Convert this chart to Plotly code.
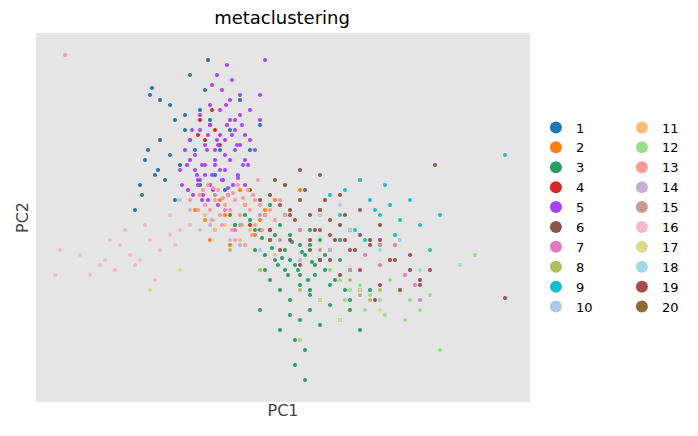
import plotly.graph_objects as go

categories = [str(i) for i in range(1, 21)]
colors = ['#1f77b4','#ff7f0e','#279e68','#d62728','#aa40fc','#8c564b','#e377c2','#b5bd61','#17becf','#aec7e8',
          '#ffbb78','#98df8a','#ff9896','#c5b0d5','#c49c94','#f7b6d2','#dbdb8d','#9edae5','#ad494a','#8c6d31']

c1_x=[150,160,170,175,185,190,195,200,205,210,145,155,165,180,200,220,230,240,215,225,140,135,175,190,160,208,250,260,170,185,152,148,158,142]
c1_y=[95,100,105,120,130,140,150,110,90,120,160,175,180,165,185,150,130,100,175,190,185,210,200,75,140,60,150,125,155,115,88,150,170,195]
c2_x=[195,205,215,225,235,245,255,265,275,210,220,230,240,250,200,260,285,300,320,360]
c2_y=[210,220,230,215,225,205,235,210,200,240,200,245,190,225,195,220,185,190,210,180]
c3_x=[250,260,270,280,290,300,310,320,330,340,255,265,275,285,295,305,315,325,335,345,270,280,290,300,310,320,260,290,300,310,330,350,280,295,305,320,340,360,275,285,300,315,330,265,290,310,325,300,285,270,340,295,305,310,320,255,245,235,350,370,262,272,282,292,302,312,278,288,298,308]
c3_y=[220,230,240,225,235,245,230,240,250,260,250,255,260,270,265,255,275,270,280,290,280,290,300,285,295,300,310,315,320,310,305,300,330,340,350,325,320,330,235,250,275,265,285,270,260,245,255,230,215,205,240,365,380,290,260,230,215,225,310,290,238,248,258,242,252,262,265,275,270,280]
c4_x=[200,205,210,215,220,212,198]
c4_y=[120,140,125,130,145,110,135]
c5_x=[185,190,195,200,205,210,215,220,225,230,235,240,245,250,188,193,198,203,208,213,218,223,228,233,238,243,190,200,210,220,230,240,250,195,205,215,225,235,245,200,210,220,230,240,205,215,225,235,212,222,232,217,227,255,260,198,208,245,180,182,228,238,248,202,212,218,232,226,260,265,192,197,207,217,227,237,187,202,222,242]
c5_y=[150,160,170,180,175,185,165,170,155,160,150,145,135,140,190,195,185,195,200,190,205,180,195,185,175,165,140,130,125,135,120,115,110,155,145,150,140,130,160,115,105,110,100,95,165,160,170,120,85,90,80,75,65,150,120,180,135,185,170,185,188,178,165,200,175,145,135,105,95,60,130,175,150,140,125,145,165,165,180,125]
c6_x=[250,260,270,280,290,300,310,320,330,340,350,360,370,380,265,275,285,295,305,315,325,335,345,355,290,310,330,350,270,300,320,340,360,380,395,410,420,360,375,345]
c6_y=[190,200,195,205,210,200,215,210,220,225,230,235,240,245,215,180,185,220,190,230,200,240,215,250,240,250,260,270,230,170,175,195,210,225,260,270,280,290,300,240]
c7_x=[215,225,235,365,380,395,405,415,420,390,400]
c7_y=[195,210,230,255,265,245,275,285,300,260,240]
c8_x=[230,260,300,350,360,370,380]
c8_y=[250,270,290,280,295,300,290]
c9_x=[330,345,360,370,380,390,400,410,385,395,340,355,365,375,420,430,440,505]
c9_y=[195,190,180,200,215,205,220,200,185,235,215,230,240,210,225,250,215,155]
c10_x=[180,200,230,260,320,340]
c10_y=[200,230,240,250,215,205]
c11_x=[205,215,225,240,250,275,330]
c11_y=[215,230,225,240,230,255,270]
c12_x=[330,340,350,360,370,380,390,400,410,420,430,345,365,385,405,300,440,475]
c12_y=[270,280,290,285,295,300,280,290,300,310,295,300,310,315,320,340,350,255]
c13_x=[200,205,210,215,220,225,230,235,240,245,250,255,260,265,270,275,212,222,232,242,252,262,218,228,238,248,258,208,198,190,280,285,235,245,255,65,203,213,223,233,243,253]
c13_y=[195,205,210,200,215,205,210,200,215,205,210,200,205,215,210,220,220,225,230,225,235,230,190,195,185,190,180,185,210,200,200,215,240,245,225,55,190,188,198,193,198,195]
c14_x=[190,210,240,300,330]
c14_y=[210,225,245,260,250]
c15_x=[240,260,280,300,320,350,380]
c15_y=[225,215,240,230,250,270,245]
c16_x=[60,80,100,110,120,130,140,150,160,170,180,90,115,135,155,175,125,145,170,105,190,55]
c16_y=[250,255,265,240,245,255,260,240,250,235,230,275,270,265,280,245,230,225,215,260,225,275]
c17_x=[150,180,320,340,360,380]
c17_y=[290,270,300,320,290,310]
c18_x=[350,380,400,420,460]
c18_y=[230,250,240,270,265]
c19_x=[250,270,290,310,330,350,370,390,410,430,280,300,320,340,360,380,400,380,420,435,505]
c19_y=[225,230,215,240,235,250,245,260,255,270,250,265,260,275,270,285,290,240,285,165,298]
c20_x=[230,270,320]
c20_y=[215,240,230]

xs=[c1_x,c2_x,c3_x,c4_x,c5_x,c6_x,c7_x,c8_x,c9_x,c10_x,c11_x,c12_x,c13_x,c14_x,c15_x,c16_x,c17_x,c18_x,c19_x,c20_x]
ys=[c1_y,c2_y,c3_y,c4_y,c5_y,c6_y,c7_y,c8_y,c9_y,c10_y,c11_y,c12_y,c13_y,c14_y,c15_y,c16_y,c17_y,c18_y,c19_y,c20_y]

fig = go.Figure()
for i, cat in enumerate(categories):
    fig.add_trace(go.Scatter(x=xs[i], y=ys[i], mode='markers', name=cat,
                             marker=dict(color=colors[i], size=4),
                             legend='legend' if i < 10 else 'legend2'))
leg = dict(font=dict(size=13, family='DejaVu Sans', color='black'), itemsizing='constant',
           bgcolor='rgba(0,0,0,0)', yanchor='middle', y=0.5, xanchor='left', tracegroupgap=0)
fig.update_layout(
    width=698, height=436, margin=dict(l=28, r=176, t=25, b=42, autoexpand=False),
    paper_bgcolor='white', plot_bgcolor='#e5e5e5',
    title=dict(text='metaclustering', x=274/698, xanchor='center', y=1-10/436, yanchor='middle',
               font=dict(size=18, family='DejaVu Sans', color='black')),
    font=dict(family='DejaVu Sans'),
    legend=dict(leg, x=1.012),
    legend2=dict(leg, x=1.186),
    xaxis=dict(range=[36,530], showticklabels=False, showgrid=False, zeroline=False, automargin=False,
               title=dict(text='PC1', font=dict(size=16, color='#444'), standoff=2)),
    yaxis=dict(range=[402,33], showticklabels=False, showgrid=False, zeroline=False, automargin=False,
               title=dict(text='PC2', font=dict(size=16, color='#444'), standoff=2)),
)
fig.write_html('out.html')
